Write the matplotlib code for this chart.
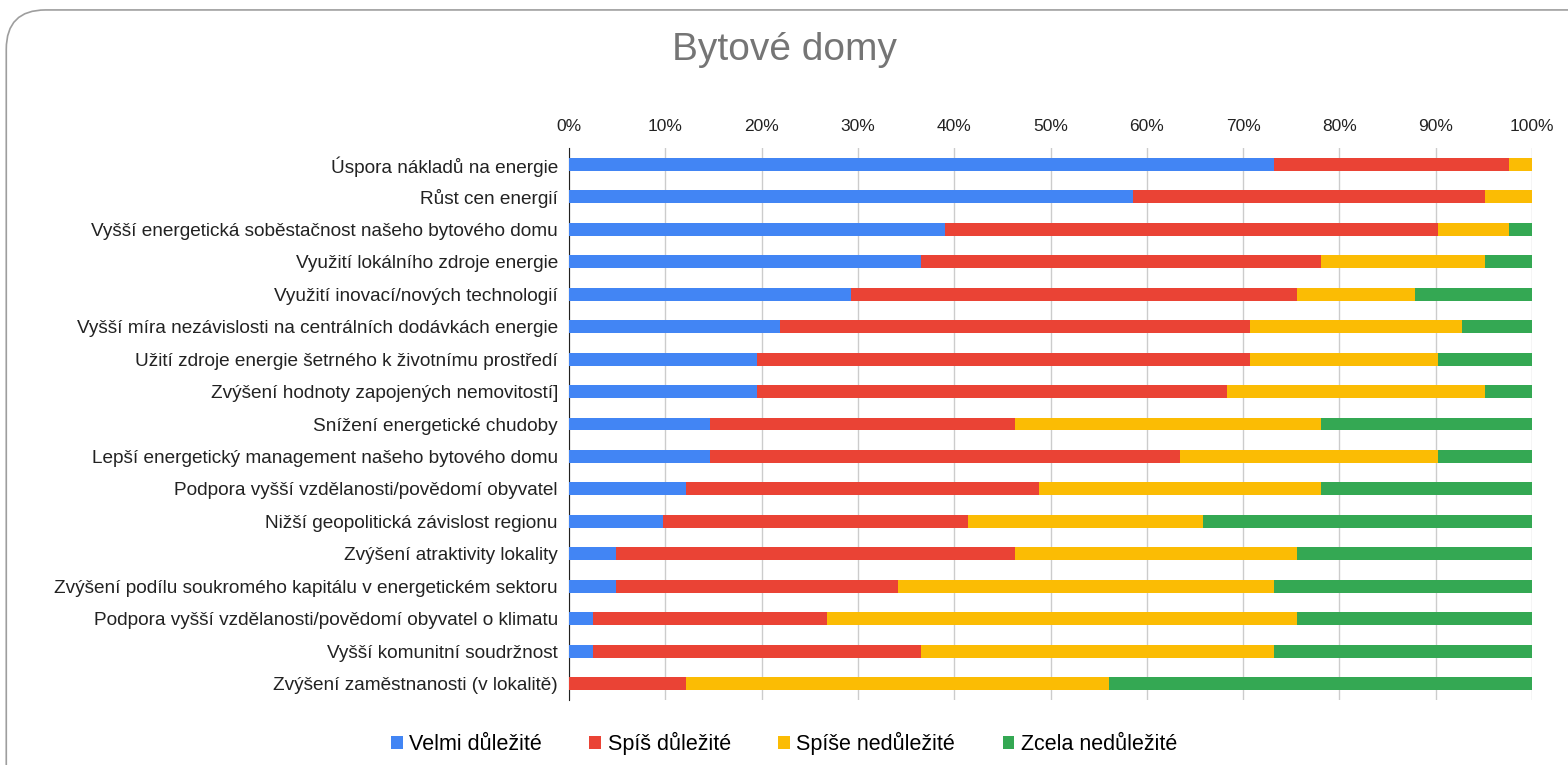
import numpy as np
import matplotlib.pyplot as plt
from matplotlib.patches import FancyBboxPatch

# counts of answers (41 respondents) per statement
labels = [
    'Úspora nákladů na energie',
    'Růst cen energií',
    'Vyšší energetická soběstačnost našeho bytového domu',
    'Využití lokálního zdroje energie',
    'Využití inovací/nových technologií',
    'Vyšší míra nezávislosti na centrálních dodávkách energie',
    'Užití zdroje energie šetrného k životnímu prostředí',
    'Zvýšení hodnoty zapojených nemovitostí]',
    'Snížení energetické chudoby',
    'Lepší energetický management našeho bytového domu',
    'Podpora vyšší vzdělanosti/povědomí obyvatel',
    'Nižší geopolitická závislost regionu',
    'Zvýšení atraktivity lokality',
    'Zvýšení podílu soukromého kapitálu v energetickém sektoru',
    'Podpora vyšší vzdělanosti/povědomí obyvatel o klimatu',
    'Vyšší komunitní soudržnost',
    'Zvýšení zaměstnanosti (v lokalitě)',
]
velmi = [30, 24, 16, 15, 12, 9, 8, 8, 6, 6, 5, 4, 2, 2, 1, 1, 0]
spis = [10, 15, 21, 17, 19, 20, 21, 20, 13, 20, 15, 13, 17, 12, 10, 14, 5]
spise_ne = [1, 2, 3, 7, 5, 9, 8, 11, 13, 11, 12, 10, 12, 16, 20, 15, 18]
zcela_ne = [0, 0, 1, 2, 5, 3, 4, 2, 9, 4, 9, 14, 10, 11, 10, 11, 18]

series = ['Velmi důležité', 'Spíš důležité', 'Spíše nedůležité', 'Zcela nedůležité']
colors = ['#4285F4', '#EA4335', '#FBBC04', '#34A853']

data = np.array([velmi, spis, spise_ne, zcela_ne], dtype=float)
pct = data / data.sum(axis=0) * 100

plt.rcParams['font.family'] = ['Liberation Sans', 'DejaVu Sans']

fig = plt.figure(figsize=(15.68, 7.65), dpi=100)
ax = fig.add_axes([0.3629, 0.085, 0.6142, 0.7215])

y = np.arange(len(labels))
left = np.zeros(len(labels))
for vals, name, c in zip(pct, series, colors):
    ax.barh(y, vals, left=left, height=0.4, color=c, label=name, zorder=3)
    left += vals

ax.set_xlim(0, 100)
ax.set_ylim(len(labels) - 0.5, -0.5)
ax.set_yticks(y)
ax.set_yticklabels(labels, fontsize=13.7, color='#222222')
ax.set_xticks(np.arange(0, 101, 10))
ax.set_xticklabels(['%d%%' % v for v in range(0, 101, 10)], fontsize=12.5, color='#222222')
ax.xaxis.tick_top()
ax.tick_params(length=0, pad=10)
ax.tick_params(axis='y', pad=8)
ax.grid(axis='x', color='#cccccc', linewidth=1, zorder=0)
for s in ['top', 'right', 'bottom']:
    ax.spines[s].set_visible(False)
ax.spines['left'].set_color('#222222')

fig.text(0.5, 0.935, 'Bytové domy', ha='center', va='center', fontsize=28,
         color='#757575')

fig.legend(loc='lower center', bbox_to_anchor=(0.5, -0.012), ncol=4, frameon=False,
           fontsize=15.5, handlelength=0.55, handleheight=0.55, handletextpad=0.3,
           columnspacing=2.2)

border = FancyBboxPatch((0.004, -0.05), 1.1, 1.037, boxstyle='round,pad=0,rounding_size=0.025',
                        transform=fig.transFigure, fill=False, edgecolor='#9e9e9e',
                        linewidth=1.2, mutation_aspect=2.05)
fig.patches.append(border)

fig.savefig('out.png', dpi=100)
